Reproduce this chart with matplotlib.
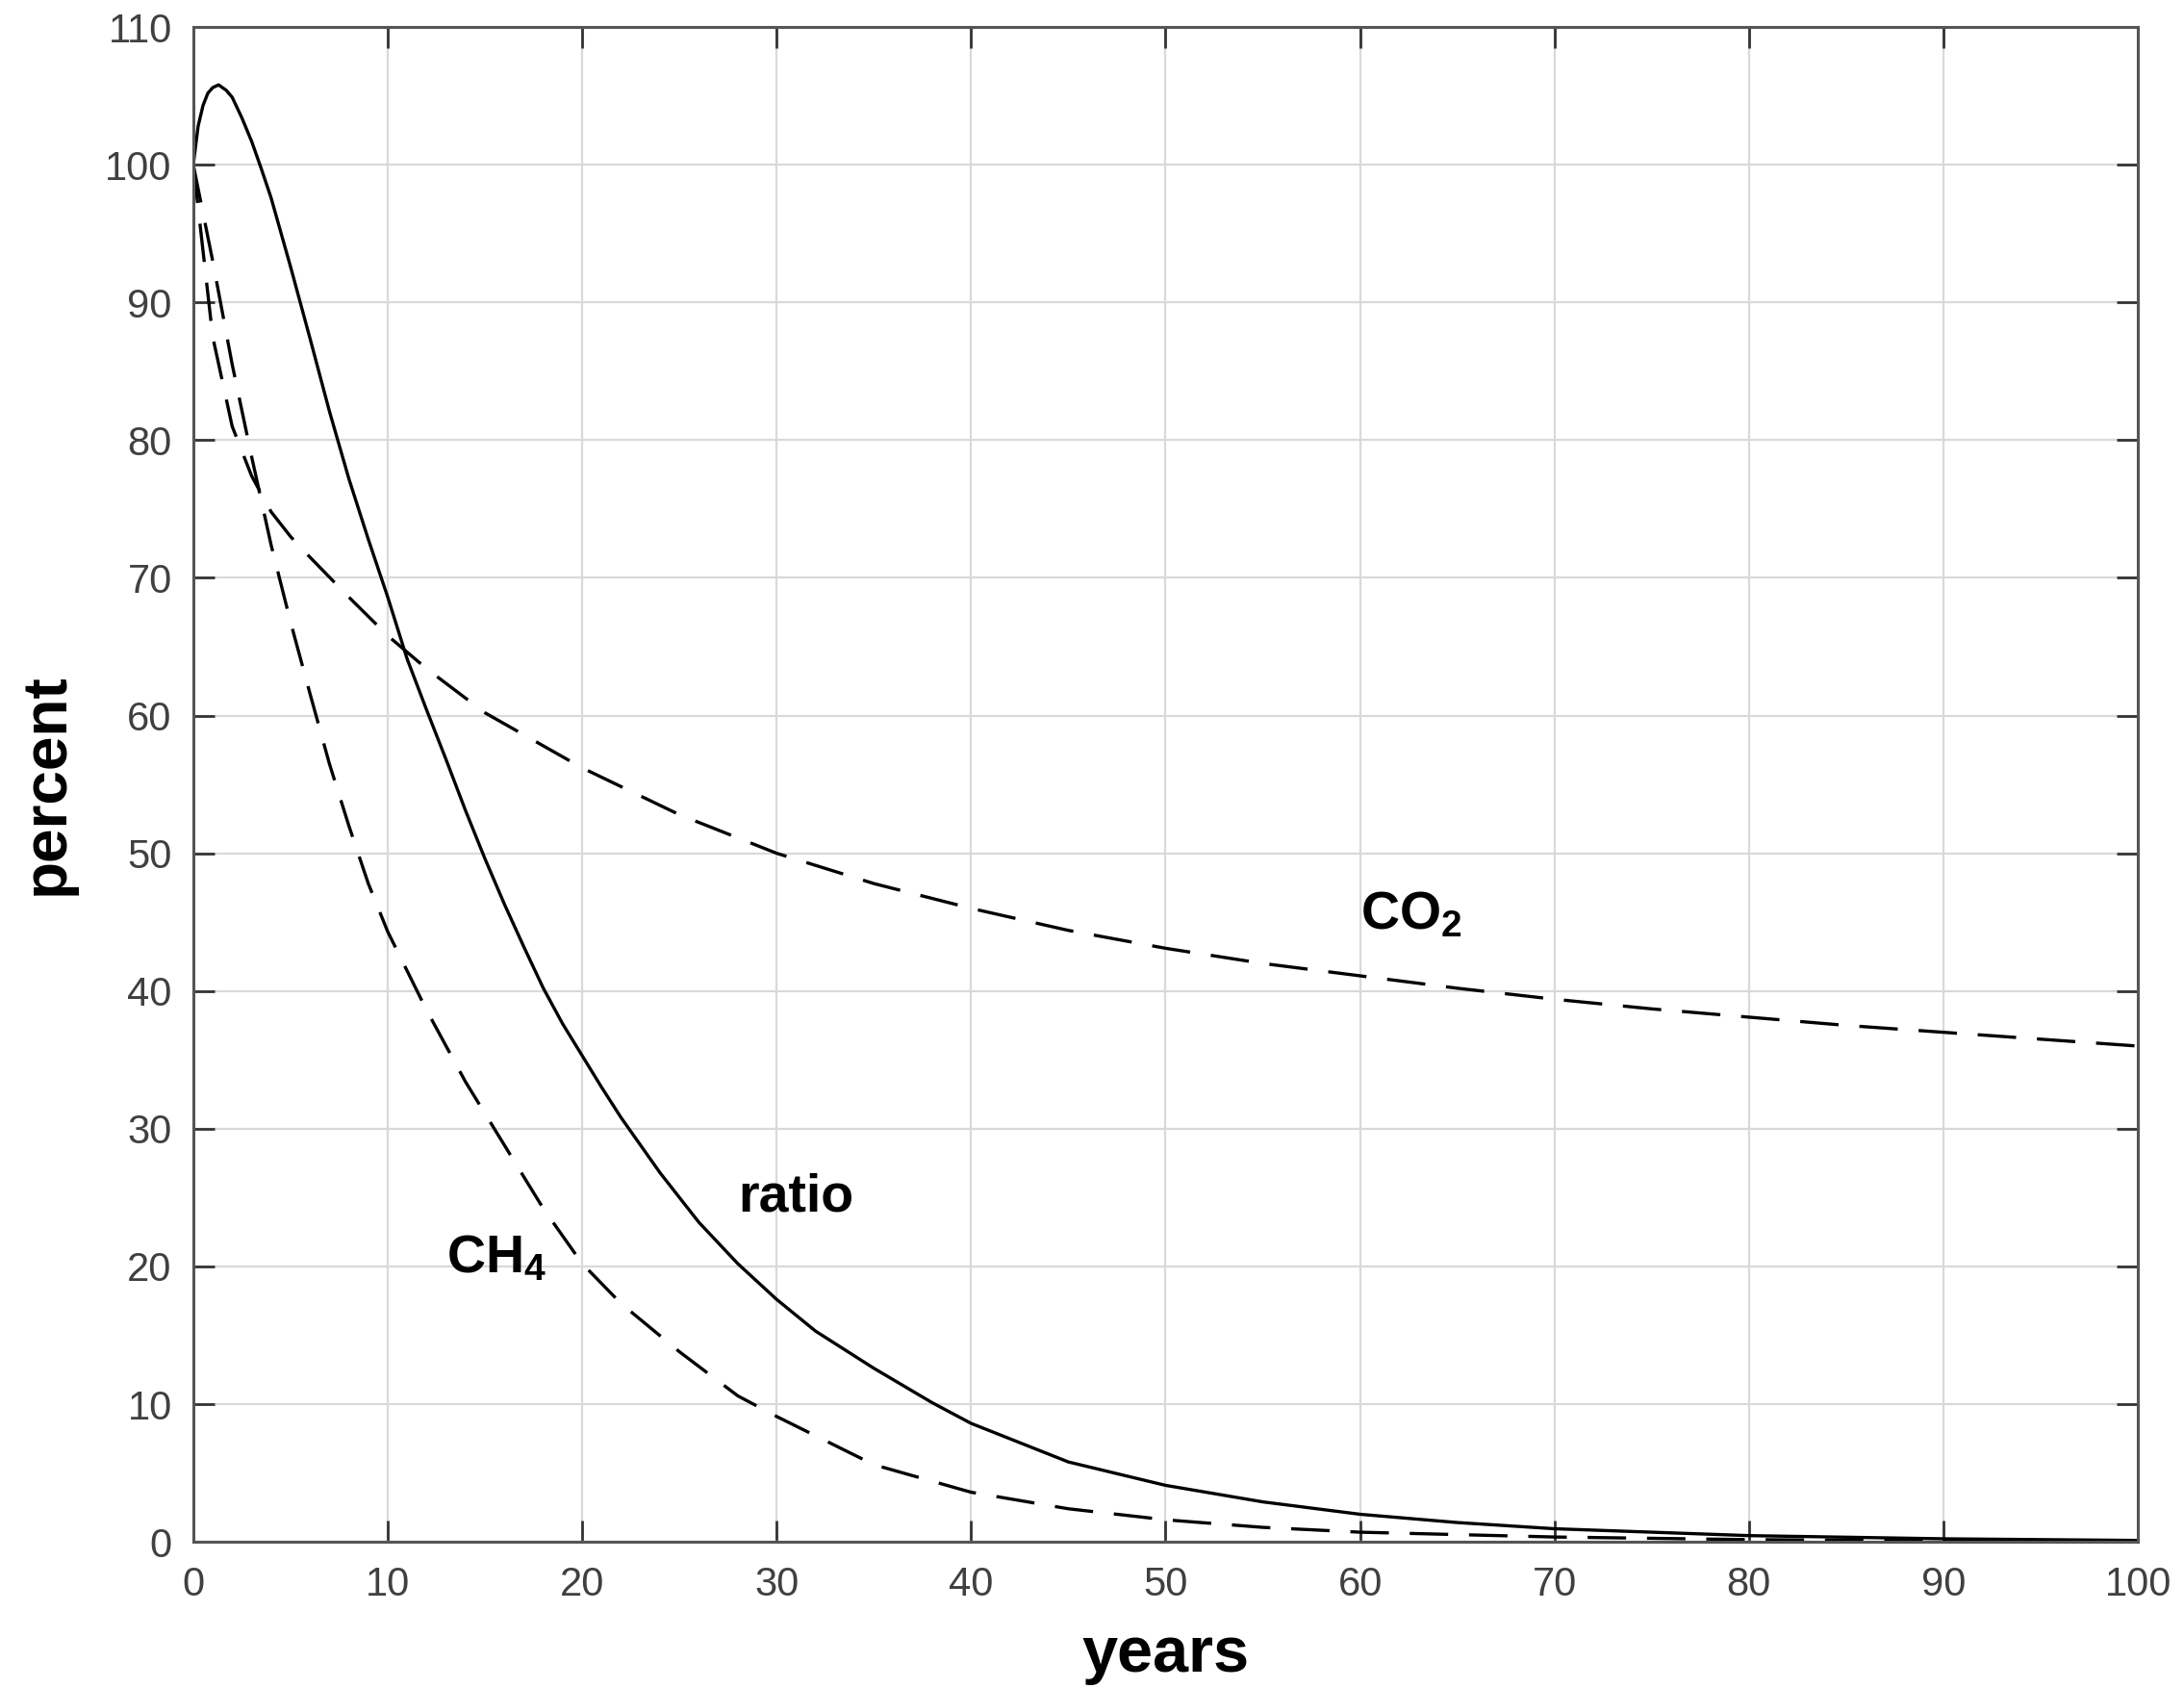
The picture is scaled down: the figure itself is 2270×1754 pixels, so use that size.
import matplotlib
matplotlib.use("Agg")
import matplotlib.pyplot as plt

plt.rcParams['font.family'] = ['Liberation Sans', 'DejaVu Sans']
plt.rcParams['mathtext.fontset'] = 'custom'
plt.rcParams['mathtext.rm'] = 'Liberation Sans'
plt.rcParams['mathtext.bf'] = 'Liberation Sans:bold'

# ---- data ----
years_co2 = [0, 1, 2, 3, 4, 5, 6, 8, 10, 12, 15, 20, 25, 30, 35, 40, 45, 50, 55, 60, 65, 70, 75, 80, 85, 90, 95, 100]
co2 = [100, 87.5, 81, 77.4, 74.8, 73.0, 71.5, 68.6, 65.8, 63.4, 60.2, 56.2, 52.8, 50.0, 47.8, 46.0, 44.4, 43.1, 42.0, 41.1, 40.2, 39.4, 38.7, 38.1, 37.5, 37.0, 36.5, 36.0]

years_ch4 = [0, 1, 2, 3, 4, 5, 6, 7, 8, 9, 10, 12, 14, 16, 18, 20, 22, 25, 28, 30, 35, 40, 45, 50, 55, 60, 70, 80, 90, 100]
ch4 = [100, 93.0, 85.5, 78.8, 72.4, 66.8, 61.6, 56.5, 52.0, 47.8, 44.3, 38.6, 33.4, 28.8, 24.2, 20.2, 17.3, 13.8, 10.6, 9.1, 5.6, 3.6, 2.4, 1.6, 1.05, 0.7, 0.35, 0.16, 0.07, 0.03]

years_ratio = [0, 0.25, 0.5, 0.75, 1, 1.3, 1.7, 2, 2.5, 3, 3.5, 4, 5, 5.5, 6, 7, 8, 9, 10, 11, 12, 13, 14, 15, 16, 17, 18, 19, 20, 21, 22, 24, 26, 28, 30, 32, 35, 38, 40, 45, 50, 55, 60, 65, 70, 80, 90, 100]
ratio = [100, 102.8, 104.3, 105.2, 105.6, 105.8, 105.4, 104.9, 103.4, 101.7, 99.7, 97.6, 92.6, 90.0, 87.4, 82.1, 77.2, 72.8, 68.6, 64.1, 60.4, 56.8, 53.1, 49.6, 46.3, 43.2, 40.2, 37.6, 35.3, 33.0, 30.8, 26.8, 23.2, 20.2, 17.6, 15.3, 12.6, 10.1, 8.6, 5.8, 4.1, 2.9, 2.0, 1.4, 0.95, 0.45, 0.22, 0.1]

fig = plt.figure(figsize=(11.35, 8.77), dpi=200)
ax = fig.add_axes([0.0885, 0.0866, 0.8904, 0.8974])

dash = (0, (12, 6.5))
ax.plot(years_co2, co2, color='black', lw=1.2, linestyle=dash)
ax.plot(years_ch4, ch4, color='black', lw=1.2, linestyle=dash)
ax.plot(years_ratio, ratio, color='black', lw=1.2, linestyle='-')

ax.set_xlim(0, 100)
ax.set_ylim(0, 110)
ax.set_xticks(range(0, 101, 10))
ax.set_yticks(range(0, 111, 10))
ax.grid(True, color='#d9d9d9', lw=0.8)
ax.set_axisbelow(True)
ax.tick_params(direction='in', length=8, width=1.0, top=True, right=True,
               labelsize=15, labelcolor='#404040', color='#333333')
ax.tick_params(axis='x', pad=9)
ax.tick_params(axis='y', pad=8)
for s in ax.spines.values():
    s.set_color('#555555')
    s.set_linewidth(1.1)

ax.set_xlabel('years', fontsize=24, fontweight='bold', labelpad=8)
ax.set_ylabel('percent', fontsize=23, fontweight='bold', labelpad=11)

ax.text(60, 45.5, r'$\mathbf{CO_2}$', fontsize=20, ha='left', va='center')
ax.text(13, 20.5, r'$\mathbf{CH_4}$', fontsize=20, ha='left', va='center')
ax.text(28, 25.0, 'ratio', fontsize=20, fontweight='bold', ha='left', va='center')

fig.savefig('out.png', dpi=200)
